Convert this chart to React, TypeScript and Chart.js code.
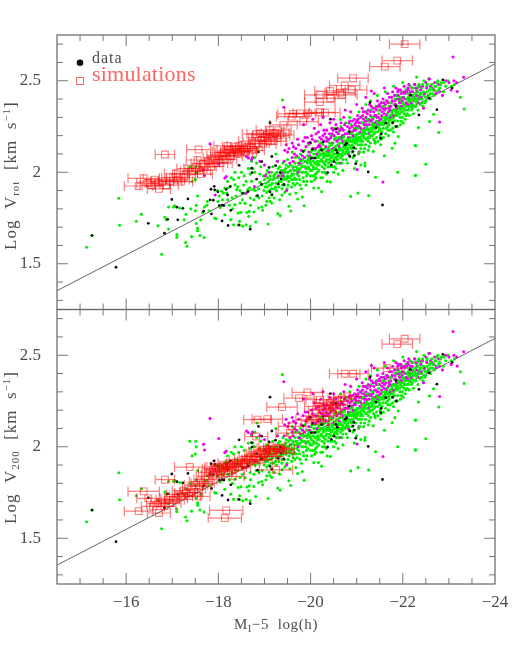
import React, { useEffect, useRef } from "react";
import { Chart, registerables } from "chart.js";

Chart.register(...registerables);

const xMajorTicks = [-16, -18, -20, -22, -24];
const yLabelledTicks = [1.5, 2, 2.5];
const yTickValues = [1.3,1.4,1.5,1.6,1.7,1.8,1.9,2,2.1,2.2,2.3,2.4,2.5,2.6,2.7];
const fitLine: [number, number][] = [[-14.5, 1.353], [-24, 2.592]];

const greenPoints: [number, number][] = [
[-15.14,1.59],[-15.26,1.654],[-15.84,1.858],[-15.86,1.71],[-16.22,1.732],[-16.33,1.77],[-16.69,1.707],[-16.77,1.552],[-16.84,1.754],[-16.87,1.74],[-16.92,1.69],[-16.92,1.81],[-17.03,1.81],[-17.05,1.817],[-17.16,1.805],[-17.26,1.74],[-17.29,1.616],[-17.32,1.596],[-17.42,1.648],[-17.1,1.66],[-17.1,1.645],[-17.52,1.72],[-17.55,1.694],[-17.55,1.68],[-17.6,1.654],[-17.69,1.643],[-17.3,1.77],[-17.4,1.8],[-17.5,1.79],[-17.52,1.82],[-17.62,1.74],[-17.66,1.78],[-17.7,1.81],[-17.76,1.84],[-17.55,1.87],[-17.43,1.95],[-17.5,1.96],[-17.51,2.03],[-17.52,2.0],[-17.38,2.03],[-17.75,1.82],[-17.8,1.79],[-17.92,1.75],
[-17.95,1.746],[-18.04,1.808],[-18.14,1.768],[-18.27,1.741],[-18.33,1.713],[-18.46,1.732],[-18.46,1.71],[-18.6,1.713],[-18.69,1.704],[-18.53,1.705],[-18.67,1.786],[-18.77,1.783],[-18.66,1.759],[-18.81,1.728],[-19.08,1.717],[-19.34,1.763],[-19.29,1.774],[-19.57,1.788],[-19.53,1.814],[-19.86,1.817],[-19.82,1.865],[-19.72,1.854],[-19.68,1.886],[-20.24,1.894],[-20.17,1.914],[-20.07,1.914],[-20.09,1.959],[-20.36,1.95],[-20.43,1.947],[-19.38,1.875],[-18.43,1.777],[-18.49,1.781],[-18.36,1.823],[-18.47,1.832],[-18.18,1.886],[-18.11,1.886],[-18.07,1.896],[-18.14,1.914],[-18.22,1.917],[-18.36,1.932],[-18.4,1.905],[-18.47,1.9],[-18.51,1.886],[-18.58,1.886],[-18.69,1.859],[-18.77,1.85],[-18.87,1.805],[-18.94,1.81],[-18.96,1.792],[-19.05,1.841],[-19.12,1.841],[-19.16,1.832],[-19.03,1.82],[-18.76,1.905],[-18.87,1.91],[-18.9,1.945],[-18.93,1.93],[-18.68,1.915],[-18.64,1.905],[-18.55,1.93],[-17.98,1.9],[-18.02,1.87],[-17.99,1.84],[-18.09,1.85],[-18.2,1.85],[-18.24,1.82],[-18.3,1.86],[-18.31,1.8],[-18.38,1.87],[-18.42,1.92],[-18.52,1.85],[-18.58,1.83],[-18.62,1.78],[-18.7,1.82],[-18.72,1.95],[-18.8,1.9],[-18.82,1.87],[-18.88,1.86],[-18.95,1.87],[-18.99,1.9],[-18.2,1.95],[-18.28,1.97],[-18.33,1.96],[-18.36,2.0],[-18.44,1.97],[-18.5,2.0],[-18.56,1.98],[-18.6,1.95],[-18.65,2.02],[-18.69,1.99],[-18.72,2.06],[-18.75,2.02],[-18.79,2.0],[-18.83,2.05],[-18.79,2.08],[-18.84,2.13],[-18.9,1.99],[-18.92,2.03],
[-19.0,1.96],[-19.02,1.92],[-19.05,1.89],[-19.06,2.01],[-19.09,1.95],[-19.1,1.9],[-19.12,1.98],[-19.14,1.93],[-19.16,1.88],[-19.18,2.03],[-19.19,1.96],[-19.2,1.91],[-19.21,1.86],[-19.23,1.99],[-19.25,1.94],[-19.26,1.9],[-19.28,2.06],[-19.29,1.97],[-19.31,1.92],[-19.33,1.85],[-19.34,2.0],[-19.36,1.95],[-19.38,1.91],[-19.39,2.395],[-19.4,2.05],[-19.42,1.98],[-19.43,1.93],[-19.44,1.89],[-19.46,2.02],[-19.47,1.96],[-19.49,1.91],[-19.5,2.07],[-19.52,2.0],[-19.53,1.95],[-19.55,1.88],[-19.56,2.04],[-19.58,1.98],[-19.6,2.11],[-19.61,2.03],[-19.62,1.94],[-19.64,2.01],[-19.65,1.97],[-19.67,2.08],[-19.68,2.03],[-19.7,1.99],[-19.71,1.94],[-19.73,2.05],[-19.75,2.01],[-19.76,1.96],[-19.78,2.1],[-19.79,2.04],[-19.81,2.0],[-19.83,2.07],[-19.84,1.97],[-19.86,2.03],[-19.87,2.12],[-19.89,2.06],[-19.9,2.0],[-19.92,1.95],[-19.93,2.09],[-19.95,2.03],[-19.96,2.15],[-19.98,2.06],[-19.99,2.01],[-20.01,2.11],[-20.02,2.04],[-20.04,1.98],[-20.05,2.08],[-20.07,2.02],[-20.08,2.13],[-20.1,2.05],[-20.11,1.99],[-20.12,2.1],[-20.14,2.04],[-20.15,2.17],[-20.17,2.08],[-20.18,2.01],[-20.2,2.12],[-20.21,2.06],[-20.22,1.97],[-20.24,2.1],[-20.25,2.03],[-20.27,2.15],[-20.28,2.08],[-20.3,2.02],[-20.31,2.13],[-20.33,2.06],[-20.34,1.99],[-20.36,2.11],[-20.37,2.18],[-20.39,2.05],[-20.4,2.14],[-20.42,2.09],[-20.43,2.03],[-20.45,2.2],[-20.46,2.12],[-20.48,2.06],[-20.49,2.16],[-20.51,2.1],[-20.52,2.03],[-20.54,2.14],[-20.55,2.19],[-20.57,2.08],[-20.58,2.12],[-20.6,2.22],[-20.61,2.05],[-20.63,2.16],[-20.64,2.1],[-20.66,2.25],[-20.67,2.18],[-20.69,2.12],[-20.7,2.07],[-20.72,2.2],[-20.73,2.15],[-20.75,2.1],[-20.76,2.27],[-20.78,2.17],[-20.79,2.12],[-20.8,2.05],[-20.82,2.22],[-20.83,2.15],[-20.85,2.09],[-20.86,2.19],[-20.88,2.26],[-20.89,2.13],[-20.91,2.22],[-20.92,2.17],[-20.94,2.09],[-20.95,2.24],[-20.97,2.19],[-20.98,2.13],[-21.0,2.28],[-21.01,2.21],[-21.03,2.15],[-21.04,2.1],[-21.06,2.25],[-21.07,2.19],[-21.09,2.13],[-21.1,2.3],[-21.12,2.23],[-21.13,2.17],[-21.15,2.11],[-21.16,2.27],[-21.18,2.21],[-21.18,2.035],[-21.19,2.15],[-21.21,2.33],[-21.22,2.25],[-21.24,2.19],[-21.25,2.12],[-21.27,2.28],[-21.28,2.22],[-21.3,2.16],[-21.31,2.34],[-21.33,2.26],[-21.34,2.2],[-21.36,2.114],[-21.36,2.3],[-21.38,2.24],[-21.39,2.17],[-21.4,2.159],[-21.42,2.36],[-21.43,2.28],[-21.45,2.22],[-21.46,2.17],[-21.48,2.32],[-21.49,2.26],[-21.51,2.2],[-21.52,2.15],[-21.54,2.38],[-21.55,2.3],[-21.57,2.24],[-21.58,2.19],[-21.6,2.09],[-21.6,2.34],[-21.61,2.27],[-21.63,2.21],[-21.64,2.39],[-21.66,2.32],[-21.67,2.25],[-21.69,2.2],[-21.7,2.36],[-21.72,2.29],[-21.73,2.23],[-21.75,2.41],[-21.76,2.33],[-21.77,2.131],[-21.78,2.27],[-21.8,2.22],[-21.81,2.37],[-21.83,2.31],[-21.83,2.159],[-21.84,2.25],[-21.86,2.42],[-21.87,2.34],[-21.89,2.28],[-21.89,2.0],[-21.9,2.195],[-21.92,2.39],[-21.93,2.32],[-21.95,2.26],[-21.96,2.44],[-21.98,2.36],[-21.99,2.3],[-22.01,2.27],[-22.02,2.41],[-22.04,2.34],[-22.05,2.29],[-22.07,2.45],[-22.08,2.38],[-22.1,2.32],[-22.11,2.43],[-22.13,2.36],[-22.14,2.31],[-22.16,2.47],[-22.17,2.4],[-22.19,2.34],[-22.2,2.44],[-22.22,2.37],[-22.23,2.32],[-22.25,2.48],[-22.26,2.41],[-22.27,2.146],[-22.27,1.982],[-22.28,2.36],[-22.3,2.45],[-22.31,2.39],[-22.33,2.34],[-22.34,2.244],[-22.35,2.48],[-22.36,2.42],[-22.38,2.37],[-22.4,2.46],[-22.42,2.4],[-22.44,2.36],[-22.46,2.5],[-22.48,2.43],[-22.5,2.044],[-22.5,2.39],[-22.52,2.47],[-22.54,2.41],[-22.56,2.51],[-22.58,2.277],[-22.58,2.45],[-22.6,2.4],[-22.63,2.48],[-22.65,2.43],[-22.67,2.317],[-22.7,2.47],[-22.73,2.44],[-22.76,2.5],[-22.78,2.217],[-22.8,2.46],[-22.84,2.49],[-22.88,2.44],[-22.93,2.47],[-22.98,2.5],[-23.05,2.47],[-23.12,2.48],[-23.25,2.41],[-23.33,2.346],[-20.87,1.868],[-21.03,1.886],[-21.26,1.873],[-21.41,1.973],[-22.28,1.983],[-22.28,2.145],[-21.0,2.06],[-21.09,2.04],[-21.18,2.05],[-20.7,2.01],[-20.6,1.99],[-20.95,2.02],
[-19.1,1.86],[-19.25,2.1],[-19.33,2.03],[-19.48,2.0],[-19.59,1.92],[-19.66,1.93],[-19.8,1.91],[-19.9,1.93],[-20.02,1.95],[-20.12,1.97],[-20.26,1.97],[-20.5,2.0],[-20.55,2.02],[-20.62,2.1],[-20.74,2.13],[-20.9,2.11],[-20.1,2.12],[-20.22,2.16],[-20.35,2.07],[-20.45,2.08],[-20.5,2.24],[-20.85,2.3],[-20.65,2.29],[-21.05,2.33],[-21.2,2.37],[-21.3,2.39],[-21.45,2.42],[-21.62,2.44],[-21.8,2.47],[-22.0,2.49],[-22.3,2.52],
[-19.97,2.08],[-20.06,2.06],[-20.13,2.08],[-20.19,2.04],[-20.26,2.06],[-20.32,2.1],[-20.41,2.07],[-20.47,2.11],[-20.53,2.08],[-20.59,2.15],[-20.65,2.13],[-20.71,2.11],[-20.77,2.14],[-20.84,2.17],[-20.9,2.15],[-20.96,2.16],[-21.02,2.18],[-21.08,2.17],[-21.14,2.2],[-21.2,2.18],[-21.26,2.23],[-21.32,2.22],[-21.38,2.21],[-21.44,2.25],[-21.5,2.23],[-21.56,2.27],[-21.62,2.29],[-21.68,2.27],[-21.74,2.31],[-21.8,2.3],[-21.86,2.32],[-21.92,2.35],[-21.98,2.33],[-22.04,2.37],[-22.1,2.38],[-22.16,2.37],[-22.22,2.42],[-22.28,2.4],[-22.34,2.41],[-22.4,2.43],[-22.46,2.42],[-19.6,1.99],[-19.66,2.05],[-19.72,2.02],[-19.82,2.03],[-19.88,2.03],[-19.93,2.05],[-19.52,2.03],[-19.44,2.0],[-19.35,1.98],[-19.2,1.98],[-19.15,2.0],[-19.04,1.99],[-18.98,1.98],[-20.11,2.02],[-20.29,2.05],[-20.4,2.11],[-20.58,2.07],[-20.69,2.16],[-20.81,2.18],[-20.93,2.2],[-21.11,2.15],[-21.29,2.28],[-21.35,2.27],[-21.53,2.29],[-21.71,2.34],[-21.85,2.37],[-21.97,2.4],[-22.15,2.43],[-22.32,2.46]
];

const denseGreen: [number, number][] = [
[-19.03,1.94],[-19.07,1.97],[-19.13,1.96],[-19.17,1.94],[-19.22,1.97],[-19.27,2.0],[-19.3,2.02],[-19.37,2.01],[-19.41,1.96],[-19.45,1.97],[-19.5,1.98],[-19.54,1.97],[-19.57,2.01],[-19.63,1.99],[-19.69,2.01],[-19.74,1.98],[-19.77,2.02],[-19.8,2.06],[-19.85,2.0],[-19.91,2.02],[-19.94,1.99],[-19.97,2.02],[-20.0,2.05],[-20.03,2.01],[-20.06,2.03],[-20.09,2.05],[-20.13,2.02],[-20.16,2.05],[-20.19,2.09],[-20.23,2.07],[-20.26,2.1],[-20.29,2.09],[-20.32,2.04],[-20.35,2.09],[-20.38,2.13],[-20.41,2.1],[-20.44,2.06],[-20.47,2.09],[-20.5,2.12],[-20.53,2.13],[-20.56,2.1],[-20.59,2.09],[-20.62,2.13],[-20.65,2.08],[-20.68,2.1],[-20.71,2.14],[-20.74,2.17],[-20.77,2.11],[-20.8,2.15],[-20.83,2.18],[-20.86,2.14],[-20.89,2.17],[-20.92,2.14],[-20.95,2.17],[-20.98,2.2],[-21.01,2.17],[-21.04,2.19],[-21.07,2.15],[-21.1,2.18],[-21.13,2.21],[-21.16,2.19],[-21.19,2.23],[-21.22,2.21],[-21.25,2.17],[-21.28,2.19],[-21.31,2.24],[-21.34,2.23],[-21.37,2.26],[-21.4,2.22],[-21.43,2.25],[-21.46,2.27],[-21.49,2.24],[-21.52,2.26],[-21.55,2.22],[-21.58,2.26],[-21.61,2.3],[-21.64,2.27],[-21.67,2.3],[-21.7,2.26],[-21.73,2.31],[-21.76,2.29],[-21.79,2.34],[-21.82,2.28],[-21.85,2.33],[-21.88,2.31],[-21.91,2.36],[-21.94,2.3],[-21.97,2.35],[-22.0,2.38],[-22.03,2.32],[-22.06,2.36],[-22.09,2.4],[-22.12,2.34],[-22.15,2.39],[-22.18,2.42],[-22.21,2.35],[-22.24,2.39],[-22.27,2.43],[-22.3,2.38],[-22.33,2.44],[-22.37,2.4],[-22.41,2.38],[-22.45,2.44],[-22.49,2.41],[-22.53,2.44],[-22.57,2.42],[-22.61,2.46],[-22.66,2.45],[-22.72,2.47],[-22.78,2.45],
[-19.06,1.92],[-19.11,1.93],[-19.15,1.91],[-19.24,1.92],[-19.32,1.95],[-19.39,1.93],[-19.43,2.01],[-19.47,2.04],[-19.51,1.93],[-19.59,1.96],[-19.63,1.96],[-19.69,1.96],[-19.74,2.08],[-19.77,1.93],[-19.85,1.95],[-19.91,1.98],[-19.94,2.07],[-20.0,1.98],[-20.03,2.12],[-20.08,1.98],[-20.14,2.0],[-20.17,2.11],[-20.23,2.13],[-20.26,2.0],[-20.31,2.0],[-20.38,2.03],[-20.41,2.16],[-20.47,2.03],[-20.53,2.18],[-20.56,2.05],[-20.62,2.19],[-20.68,2.05],[-20.71,2.19],[-20.77,2.07],[-20.83,2.11],[-20.88,2.21],[-20.92,2.08],[-20.99,2.16],[-21.02,2.24],[-21.07,2.11],[-21.13,2.27],[-21.17,2.13],[-21.23,2.29],[-21.27,2.14],[-21.33,2.3],[-21.37,2.18],[-21.43,2.19],[-21.47,2.34],[-21.53,2.18],[-21.58,2.36],[-21.63,2.24],[-21.68,2.23],[-21.73,2.38],[-21.78,2.24],[-21.83,2.4],[-21.88,2.25],[-21.93,2.41],[-21.97,2.28],[-22.02,2.37],[-22.07,2.31],[-22.12,2.41],[-22.17,2.36],[-22.22,2.46],[-22.27,2.36],[-22.33,2.47],[-22.38,2.43],[-22.43,2.48],[-22.48,2.38],[-22.53,2.48],[-22.6,2.43],[-22.68,2.42],[-22.74,2.49],[-22.82,2.48],[-22.9,2.49],
[-20.01,2.08],[-20.07,2.1],[-20.15,2.06],[-20.21,2.1],[-20.27,2.12],[-20.33,2.09],[-20.39,2.09],[-20.45,2.15],[-20.51,2.07],[-20.57,2.11],[-20.63,2.12],[-20.69,2.09],[-20.75,2.15],[-20.81,2.13],[-20.87,2.17],[-20.93,2.18],[-20.99,2.18],[-21.05,2.21],[-21.11,2.2],[-21.17,2.22],[-21.23,2.24],[-21.29,2.2],[-21.35,2.25],[-21.41,2.24],[-21.47,2.25],[-21.53,2.27],[-21.59,2.28],[-21.65,2.29],[-21.71,2.28],[-21.77,2.32],[-21.83,2.34],[-21.89,2.33],[-21.95,2.34],[-22.01,2.35],[-22.07,2.34],[-22.13,2.39],[-22.19,2.4],[-22.25,2.41]
];

const magentaPoints: [number, number][] = [
[-17.82,2.155],[-18.61,2.086],[-18.65,2.078],[-18.74,2.08],[-18.72,2.07],[-17.7,1.982],[-17.68,2.013],[-17.93,1.876],[-18.01,2.045],[-18.17,1.976],[-18.14,1.968],[-18.6,1.885],[-18.78,1.922],[-23.09,2.63],[-23.32,2.519],[-23.18,2.441],[-22.8,2.275],[-21.57,1.947],[-21.01,2.015],[-19.42,2.355],[-21.32,2.444],[-18.9,2.06],[-19.0,2.04],[-19.02,1.98],[-19.1,2.0],[-19.3,1.98],[-19.38,2.0],[-19.43,2.06],[-19.44,2.12],[-19.47,2.15],[-19.5,2.11],[-19.55,2.05],[-19.48,1.9],[-19.6,2.08],[-19.63,2.14],[-19.68,2.13],[-19.7,2.09],[-19.72,2.18],[-19.76,2.05],[-19.8,2.12],[-19.84,2.17],[-19.87,2.08],[-19.9,2.14],[-19.93,2.19],[-19.96,2.11],[-20.0,2.16],[-20.02,2.2],[-20.05,2.13],[-20.08,2.24],[-20.1,2.17],[-20.14,2.1],[-20.17,2.22],[-20.19,2.15],[-20.22,2.26],[-20.25,2.12],[-20.27,2.2],[-20.3,2.17],[-20.33,2.14],[-20.35,2.23],[-20.38,2.12],[-20.4,2.18],[-20.42,2.27],[-20.45,2.16],[-20.47,2.21],[-20.5,2.13],[-20.52,2.18],[-20.55,2.26],[-20.57,2.17],[-20.6,2.21],[-20.62,2.14],[-20.65,2.19],[-20.68,2.24],[-20.7,2.17],[-20.72,2.3],[-20.75,2.21],[-20.78,2.16],[-20.8,2.25],[-20.82,2.19],[-20.85,2.24],[-20.87,2.33],[-20.9,2.25],[-20.92,2.2],[-20.95,2.29],[-20.97,2.23],[-21.0,2.25],[-21.02,2.31],[-21.05,2.27],[-21.07,2.22],[-21.1,2.27],[-21.12,2.35],[-21.15,2.29],[-21.17,2.24],[-21.2,2.3],[-21.22,2.28],[-21.25,2.34],[-21.27,2.26],[-21.3,2.31],[-21.32,2.36],[-21.35,2.29],[-21.37,2.33],[-21.4,2.27],[-21.42,2.31],[-21.45,2.39],[-21.47,2.3],[-21.5,2.34],[-21.52,2.29],[-21.55,2.33],[-21.57,2.4],[-21.6,2.32],[-21.62,2.37],[-21.65,2.31],[-21.67,2.43],[-21.7,2.35],[-21.72,2.3],[-21.75,2.38],[-21.78,2.44],[-21.8,2.34],[-21.83,2.39],[-21.85,2.46],[-21.88,2.36],[-21.9,2.42],[-21.93,2.38],[-21.95,2.45],[-21.98,2.36],[-22.0,2.41],[-22.03,2.47],[-22.05,2.4],[-22.08,2.44],[-22.1,2.37],[-22.13,2.48],[-22.15,2.42],[-22.18,2.38],[-22.2,2.46],[-22.23,2.41],[-22.26,2.48],[-22.3,2.42],[-22.33,2.38],[-22.36,2.47],[-22.4,2.41],[-22.45,2.35],[-22.5,2.49],[-22.55,2.42],[-22.58,2.51],[-22.64,2.46],[-22.69,2.49],[-22.72,2.43],[-22.8,2.44],[-22.86,2.42],[-22.93,2.5],[-23.0,2.49],[-23.05,2.45],[-23.11,2.5],[-23.17,2.49],[-20.65,2.05],[-20.5,2.29],[-20.27,2.3],[-20.05,2.29],[-19.85,2.26],[-19.4,1.98],[-19.52,1.97],[-19.6,2.16],[-20.75,2.34],[-21.0,2.37],[-21.2,2.41],[-21.38,2.43],[-21.6,2.46],[-21.45,2.26],[-21.25,2.21],[-21.05,2.11],[-20.82,2.1],[-19.9,2.02],[-19.73,2.0],[-19.28,2.06],
[-20.2,2.19],[-20.31,2.21],[-20.49,2.23],[-20.66,2.27],[-20.85,2.28],[-20.98,2.27],[-21.08,2.3],[-21.18,2.33],[-21.28,2.37],[-21.41,2.35],[-21.49,2.37],[-21.58,2.36],[-21.68,2.38],[-21.76,2.41],[-21.9,2.45],[-22.02,2.44],[-22.12,2.45],
[-19.53,2.13],[-19.65,2.1],[-19.74,2.15],[-19.82,2.09],[-19.88,2.19],[-19.95,2.16],[-20.04,2.18],[-20.12,2.21],[-20.16,2.14],[-20.24,2.18],[-20.29,2.23],[-20.36,2.17],[-20.41,2.21],[-20.46,2.24],[-20.51,2.2],[-20.56,2.22],[-20.61,2.18],[-20.64,2.23],[-20.69,2.2],[-20.74,2.26],[-20.79,2.21],[-20.83,2.27],[-20.88,2.22],[-20.91,2.28],[-20.96,2.26],[-21.01,2.28],[-21.04,2.25],[-21.09,2.24],[-21.13,2.31],[-21.16,2.26],[-21.19,2.28],[-21.23,2.32],[-21.26,2.29],[-21.29,2.33],[-21.33,2.29],[-21.36,2.35],[-21.39,2.31],[-21.43,2.34],[-21.46,2.36],[-21.48,2.28],[-21.51,2.36],[-21.54,2.31],[-21.56,2.35],[-21.59,2.38],[-21.63,2.35],[-21.66,2.39],[-21.69,2.33],[-21.71,2.41],[-21.74,2.36],[-21.77,2.39],[-21.79,2.31],[-21.82,2.42],[-21.84,2.37],[-21.87,2.4],[-21.89,2.44],[-21.92,2.4],[-21.94,2.36],[-21.97,2.43],[-21.99,2.39],[-22.04,2.43],[-22.07,2.38],[-22.11,2.46],[-22.14,2.4],[-22.17,2.44],[-22.21,2.44],[-22.24,2.39],[-22.28,2.46],[-22.31,2.44],[-22.35,2.4],[-22.39,2.45],[-22.43,2.47],[-22.47,2.43],[-22.52,2.46],[-22.6,2.47],[-22.68,2.45],[-22.78,2.48],
[-19.62,2.06],[-19.78,2.07],[-19.98,2.09],[-20.11,2.13],[-20.21,2.14],[-20.34,2.19],[-20.44,2.19],[-20.59,2.24],[-20.71,2.23],[-20.84,2.21],[-20.94,2.23],[-21.03,2.29],[-21.14,2.33],[-21.21,2.26],[-21.31,2.28],[-21.44,2.3],[-21.53,2.38],[-21.61,2.34],[-21.73,2.34],[-21.86,2.35],[-21.96,2.38]
];

const blackPoints: [number, number][] = [
[-15.78,1.481],[-15.26,1.654],[-16.48,1.721],[-16.83,1.667],[-16.9,1.743],[-16.99,1.851],[-17.12,1.74],[-17.1,1.809],[-17.23,1.803],[-17.34,1.854],[-17.68,1.787],[-17.85,1.772],[-17.82,1.849],[-17.89,1.847],[-17.91,1.923],[-17.84,1.907],[-17.92,1.903],[-17.99,1.893],[-18.02,1.818],[-18.08,1.82],[-18.12,1.818],[-18.08,1.734],[-18.17,1.907],[-18.2,1.876],[-18.21,1.709],[-18.27,1.792],[-18.26,1.922],[-18.44,1.712],[-18.45,2.038],[-18.53,1.885],[-18.69,1.689],[-18.72,2.022],[-18.73,1.998],[-18.83,1.962],[-18.87,2.111],[-18.85,1.872],[-18.64,1.894],[-19.12,2.271],[-18.94,2.058],[-19.16,2.086],[-19.1,2.026],[-19.24,2.036],[-18.94,1.934],[-19.34,1.998],[-19.36,1.964],[-19.3,1.936],[-19.42,1.933],[-19.12,1.893],[-19.16,1.876],[-19.99,2.162],[-20.04,2.126],[-20.02,2.077],[-19.84,2.113],[-20.09,2.077],[-20.27,2.165],[-20.24,2.122],[-20.45,2.04],[-20.37,1.998],[-20.51,2.058],[-20.55,2.122],[-20.58,2.107],[-20.43,2.29],[-20.55,2.237],[-20.78,2.158],[-20.75,2.15],[-20.84,2.222],[-20.94,2.133],[-20.92,2.113],[-20.95,2.091],[-20.85,2.086],[-20.98,2.047],[-21.25,2.002],[-21.56,1.821],[-21.52,2.186],[-21.53,2.21],[-21.42,2.244],[-21.29,2.381],[-21.63,2.268],[-21.78,2.271],[-21.86,2.25],[-21.85,2.362],[-22.17,2.421],[-22.35,2.313],[-22.57,2.404],[-22.74,2.342],[-22.87,2.505],[-23.07,2.461]
];

const redTop: [number, number, number][] = [
[-16.84,2.097,.21],[-17.57,2.124,.26],[-16.38,1.967,.34],[-16.27,1.925,.31],[-16.48,1.94,.25],[-16.71,1.909,.25],[-16.69,1.94,.25],[-16.96,1.953,.25],[-17.19,1.949,.25],[-17.08,1.993,.25],[-17.3,1.991,.25],[-17.43,2.004,.25],[-17.55,2.067,.25],[-17.66,2.046,.25],[-17.62,1.99,.25],[-18.02,2.071,.25],[-17.95,2.05,.25],[-18.08,2.086,.25],[-18.2,2.144,.3],[-18.18,2.107,.25],[-18.27,2.089,.25],[-18.38,2.122,.25],[-18.44,2.144,.25],[-18.49,2.113,.25],[-18.63,2.131,.25],[-18.82,2.208,.3],[-18.82,2.158,.28],[-19.12,2.231,.3],[-19.23,2.213,.3],[-19.34,2.204,.3],[-19.05,2.204,.3],[-19.16,2.195,.3],[-19.41,2.259,.3],[-19.08,2.168,.28],[-18.94,2.177,.28],[-18.97,2.155,.28],[-19.62,2.319,.33],[-19.77,2.322,.33],[-19.95,2.322,.33],[-20.2,2.328,.33],[-20.31,2.326,.33],[-19.59,2.304,.33],[-19.84,2.277,.33],[-20.2,2.423,.33],[-20.2,2.383,.33],[-20.42,2.444,.33],[-20.43,2.404,.33],[-20.64,2.435,.33],[-20.68,2.423,.33],[-20.74,2.474,.33],[-20.92,2.514,.33],[-20.89,2.45,.33],[-21.61,2.577,.33],[-21.88,2.61,.33],[-22.04,2.7,.33],
[-16.55,1.93,.25],[-16.62,1.96,.25],[-16.78,1.95,.25],[-16.88,1.93,.25],[-17.02,1.97,.25],[-17.12,1.96,.25],[-17.25,1.97,.25],[-17.35,2.02,.25],[-17.5,2.02,.25],[-17.58,2.01,.25],[-17.7,2.03,.25],[-17.78,2.06,.25],[-17.85,2.03,.25],[-17.92,2.08,.25],[-18.0,2.09,.25],[-18.05,2.05,.25],[-18.12,2.11,.25],[-18.15,2.07,.25],[-18.22,2.12,.25],[-18.3,2.11,.25],[-18.34,2.14,.25],[-18.42,2.1,.25],[-18.55,2.13,.25],[-18.58,2.11,.25],[-18.7,2.14,.25],[-18.75,2.12,.25],[-19.0,2.19,.28],[-19.2,2.17,.28],[-19.27,2.2,.28],[-19.3,2.23,.28],[-18.9,2.21,.28],[-18.72,2.17,.28]
];

const redBottom: [number, number, number][] = [
[-16.84,1.82,.21],[-17.38,1.889,.33],[-16.38,1.756,.34],[-16.27,1.648,.31],[-16.48,1.718,.25],[-16.71,1.638,.25],[-16.69,1.689,.25],[-16.58,1.674,.25],[-16.94,1.692,.25],[-16.83,1.674,.25],[-17.01,1.71,.25],[-17.19,1.729,.25],[-17.3,1.747,.25],[-17.41,1.75,.25],[-17.57,1.729,.25],[-17.66,1.8,.25],[-17.59,1.783,.25],[-17.77,1.838,.25],[-17.88,1.847,.25],[-17.95,1.874,.25],[-18.06,1.865,.25],[-18.17,1.652,.36],[-18.14,1.61,.36],[-18.13,1.902,.25],[-18.24,1.91,.25],[-18.31,1.874,.25],[-18.31,1.838,.25],[-18.42,1.91,.25],[-18.49,1.92,.25],[-18.6,1.929,.25],[-18.7,1.947,.25],[-18.82,1.947,.25],[-18.82,2.056,.25],[-18.85,2.148,.3],[-21.65,2.43,.33],[-21.88,2.561,.33],[-22.04,2.59,.33],[-20.74,2.399,.33],[-20.92,2.399,.33],[-19.93,2.297,.33],[-19.75,2.266,.33],[-19.38,2.217,.33],[-19.06,2.151,.33],[-20.2,2.257,.3],[-20.17,2.22,.3],[-20.42,2.239,.3],[-20.46,2.211,.3],[-20.35,2.225,.3],[-20.68,2.266,.3],[-20.8,2.275,.3],[-20.2,2.148,.3],[-19.98,2.148,.3],[-20.09,2.14,.3],[-19.6,2.111,.3],[-19.55,2.075,.3],[-19.25,1.874,.36],[-19.26,1.993,.28],[-19.16,2.002,.28],[-19.05,1.984,.28],[-19.37,1.984,.28],[-18.94,1.975,.28],[-18.97,1.947,.28],[-19.08,1.947,.28],[-19.34,1.965,.28],[-19.19,1.975,.28],[-18.9,1.929,.28],[-20.35,2.184,.3],
[-16.78,1.7,.25],[-16.9,1.71,.25],[-17.08,1.72,.25],[-17.13,1.74,.25],[-17.25,1.76,.25],[-17.36,1.73,.25],[-17.47,1.77,.25],[-17.52,1.79,.25],[-17.62,1.81,.25],[-17.72,1.82,.25],[-17.82,1.86,.25],[-17.9,1.88,.25],[-18.0,1.89,.25],[-18.04,1.85,.25],[-18.1,1.88,.25],[-18.18,1.89,.25],[-18.27,1.9,.25],[-18.36,1.89,.25],[-18.45,1.89,.25],[-18.55,1.91,.25],[-18.66,1.92,.25],[-18.76,1.93,.25],[-18.86,1.96,.25],[-19.0,1.96,.28],[-19.12,1.99,.28],[-19.3,1.99,.28],[-20.26,2.2,.3],[-20.5,2.23,.3],[-20.58,2.25,.3],[-20.25,2.17,.3]
];

const INK = "#4d4d4d";
const SERIF = '"Liberation Serif", serif';
const RED_LINE = "rgba(255,0,0,0.5)";

function toXY(list: number[][]) {
  return list.map((p) => ({ x: p[0], y: p[1] }));
}

type Run = { t: string; size: number; dy?: number };

function drawRuns(ctx: CanvasRenderingContext2D, runs: Run[], spacing: number) {
  let cursor = 0;
  (ctx as any).letterSpacing = spacing + "px";
  for (const r of runs) {
    ctx.font = `${r.size}px ${SERIF}`;
    ctx.fillText(r.t, cursor, r.dy || 0);
    cursor += ctx.measureText(r.t).width;
  }
  (ctx as any).letterSpacing = "0px";
}

const framePlugin = {
  id: "frame",
  beforeDatasetsDraw(chart: any) {
    const ctx: CanvasRenderingContext2D = chart.ctx;
    const xs = chart.scales.x;
    ctx.save();
    for (const id of ["yTop", "yBottom"]) {
      const ys = chart.scales[id];
      ctx.strokeStyle = "#666";
      ctx.lineWidth = 1.2;
      ctx.strokeRect(xs.left, ys.top, xs.right - xs.left, ys.bottom - ys.top);
      ctx.lineWidth = 1;
      ctx.strokeStyle = "#777";
      ctx.beginPath();
      for (const t of xs.ticks) {
        const v = t.value;
        if (v <= -24 || v >= -14.5) continue;
        const len = xMajorTicks.includes(v) ? 11 : 6;
        const p = xs.getPixelForValue(v);
        ctx.moveTo(p, ys.top);
        ctx.lineTo(p, ys.top + len);
        ctx.moveTo(p, ys.bottom);
        ctx.lineTo(p, ys.bottom - len);
      }
      for (const t of ys.ticks) {
        const v = t.value;
        const len = yLabelledTicks.includes(v) ? 11 : 6;
        const p = ys.getPixelForValue(v);
        ctx.moveTo(xs.left, p);
        ctx.lineTo(xs.left + len, p);
        ctx.moveTo(xs.right, p);
        ctx.lineTo(xs.right - len, p);
      }
      ctx.stroke();
    }
    ctx.restore();
  },
  afterDatasetsDraw(chart: any) {
    const ctx: CanvasRenderingContext2D = chart.ctx;
    const xs = chart.scales.x;
    ctx.save();
    ctx.strokeStyle = RED_LINE;
    ctx.lineWidth = 1.2;
    const sets: [string, number[][]][] = [["yTop", redTop], ["yBottom", redBottom]];
    for (const [id, list] of sets) {
      const ys = chart.scales[id];
      for (const [x, y, e] of list) {
        const py = ys.getPixelForValue(y);
        const a = xs.getPixelForValue(x - e);
        const b = xs.getPixelForValue(x + e);
        const c = xs.getPixelForValue(x);
        ctx.beginPath();
        ctx.moveTo(a, py); ctx.lineTo(c - 3.5, py);
        ctx.moveTo(c + 3.5, py); ctx.lineTo(b, py);
        ctx.moveTo(a, py - 5); ctx.lineTo(a, py + 5);
        ctx.moveTo(b, py - 5); ctx.lineTo(b, py + 5);
        ctx.stroke();
      }
    }
    ctx.textBaseline = "alphabetic";
    ctx.textAlign = "left";
    ctx.fillStyle = INK;
    const titles: [number, string][] = [[250, "rot"], [524, "200"]];
    for (const [start, sub] of titles) {
      ctx.save();
      ctx.translate(16, start);
      ctx.rotate(-Math.PI / 2);
      drawRuns(ctx, [
        { t: "Log  V", size: 17 },
        { t: sub, size: 11, dy: 3 },
        { t: "  [km  s", size: 17 },
        { t: "−1", size: 11, dy: -6 },
        { t: "]", size: 17 },
      ], 1);
      ctx.restore();
    }
    ctx.save();
    ctx.translate(234, 629);
    drawRuns(ctx, [
      { t: "M", size: 15 },
      { t: "I", size: 10, dy: 3 },
      { t: "−5  log(h)", size: 15 },
    ], 0.6);
    ctx.restore();
    ctx.fillStyle = "#111";
    ctx.beginPath();
    ctx.arc(80, 62.7, 3.3, 0, Math.PI * 2);
    ctx.fill();
    ctx.strokeStyle = "#f66";
    ctx.lineWidth = 1;
    ctx.strokeRect(76.5, 77.5, 7, 7);
    ctx.fillStyle = INK;
    ctx.font = `16px ${SERIF}`;
    (ctx as any).letterSpacing = "1px";
    ctx.fillText("data", 92, 63);
    ctx.fillStyle = "#f66";
    ctx.font = `22px ${SERIF}`;
    (ctx as any).letterSpacing = "0.2px";
    ctx.fillText("simulations", 92, 81);
    ctx.restore();
  },
};

export default function App() {
  const ref = useRef<HTMLCanvasElement | null>(null);
  useEffect(() => {
    const dot = (label: string, color: string, pts: number[][], yAxisID: string, radius = 1.55) => ({
      type: "scatter" as const, label, yAxisID, data: toXY(pts),
      pointRadius: radius, pointBorderWidth: 0, pointBackgroundColor: color, showLine: false,
    });
    const fit = (yAxisID: string) => ({
      type: "line" as const, label: "fit", yAxisID, data: toXY(fitLine),
      borderColor: "#666", borderWidth: 1, pointRadius: 0,
    });
    const red = (yAxisID: string, pts: number[][]) => ({
      type: "scatter" as const, label: "simulations", yAxisID, data: toXY(pts),
      pointStyle: "rect", pointRadius: 4.8, pointBorderWidth: 1.1,
      pointBorderColor: RED_LINE, pointBackgroundColor: "rgba(0,0,0,0)", showLine: false,
    });
    const yAxis = (weight: number) => ({
      type: "linear" as const, position: "left" as const, stack: "panels", stackWeight: 1, weight,
      min: 1.25, max: 2.75,
      grid: { display: false }, border: { display: false },
      afterFit: (s: any) => { s.width = 57; },
      afterBuildTicks: (s: any) => { s.ticks = yTickValues.map((value) => ({ value })); },
      ticks: {
        autoSkip: false, padding: 8, color: INK,
        font: { family: SERIF, size: 17 },
        callback: (v: any) => (yLabelledTicks.includes(Number(v)) ? String(v) : ""),
      },
    });
    const chart = new Chart(ref.current as HTMLCanvasElement, {
      type: "scatter",
      data: {
        datasets: [
          fit("yTop"), fit("yBottom"),
          dot("green", "#00f000", greenPoints, "yTop"),
          dot("magenta", "#f000f0", magentaPoints, "yTop"),
          dot("green", "#00f000", denseGreen, "yTop"),
          dot("data", "#111", blackPoints, "yTop", 1.4),
          dot("green", "#00f000", greenPoints, "yBottom"),
          dot("magenta", "#f000f0", magentaPoints, "yBottom"),
          dot("green", "#00f000", denseGreen, "yBottom"),
          dot("data", "#111", blackPoints, "yBottom", 1.4),
          red("yTop", redTop),
          red("yBottom", redBottom),
        ].reverse() as any,
      },
      options: {
        animation: false, responsive: false, maintainAspectRatio: false,
        layout: { padding: { top: 35, right: 28, left: 0, bottom: 0 } },
        plugins: { legend: { display: false }, tooltip: { enabled: false } },
        scales: {
          x: {
            type: "linear", reverse: true, min: -24, max: -14.5,
            grid: { display: false }, border: { display: false },
            afterFit: (s: any) => { s.height = 70; },
            ticks: {
              stepSize: 0.5, autoSkip: false, maxRotation: 0, padding: 0, color: INK,
              font: { family: SERIF, size: 17 },
              callback: (v: any) => (xMajorTicks.includes(Number(v)) ? "−" + Math.abs(Number(v)) : ""),
            },
          },
          yBottom: yAxis(1),
          yTop: yAxis(2),
        } as any,
      },
      plugins: [framePlugin],
    });
    return () => chart.destroy();
  }, []);
  return (
    <canvas ref={ref} width={523} height={654}
      style={{ position: "absolute", left: 0, top: 0, width: 523, height: 654, display: "block" }} />
  );
}
